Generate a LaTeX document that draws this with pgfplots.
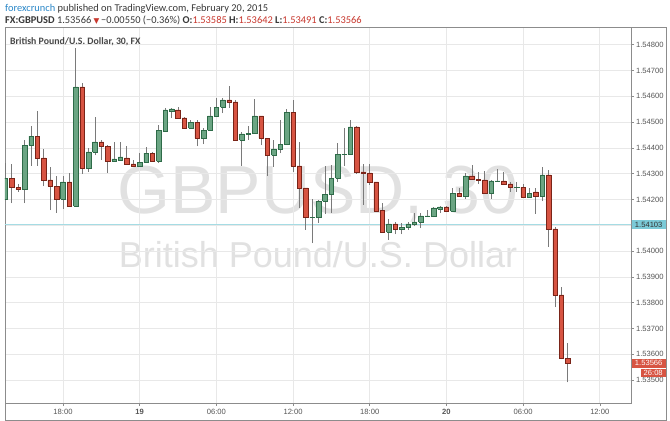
\documentclass[border=0pt]{standalone}
\usepackage{pgfplots}
\pgfplotsset{compat=1.18}
\usepackage{pgfplotstable}
\usepackage{fontspec}
\setmainfont{Liberation Sans}
\newfontfamily\hdr{Carlito}
\newfontfamily\symf{DejaVu Sans}
\definecolor{upfill}{HTML}{6BA583}
\definecolor{upbord}{HTML}{2E6B48}
\definecolor{dnfill}{HTML}{D75442}
\definecolor{dnbord}{HTML}{7A2418}
\definecolor{wickc}{HTML}{7A7A7A}
\definecolor{gridc}{HTML}{E8E8E8}
\definecolor{framec}{HTML}{8C8C8C}
\definecolor{wm}{HTML}{E1E1E1}
\definecolor{cyanl}{HTML}{A5DCE4}
\definecolor{cyanbox}{HTML}{7CCAD7}
\definecolor{redtxt}{HTML}{C8372D}
\definecolor{blue1}{HTML}{2A87C8}
\definecolor{ticktxt}{HTML}{555555}

% k open high low close up
\pgfplotstableread{
k o h l c u
0 1.54202 1.54341 1.54198 1.54283 1
1 1.54283 1.54338 1.54186 1.54248 0
2 1.54248 1.54260 1.54229 1.54241 0
3 1.54241 1.54431 1.54186 1.54411 1
4 1.54411 1.54485 1.54330 1.54446 1
5 1.54446 1.54543 1.54330 1.54361 0
6 1.54361 1.54396 1.54252 1.54276 0
7 1.54276 1.54326 1.54159 1.54252 0
8 1.54252 1.54291 1.54148 1.54202 0
9 1.54202 1.54291 1.54163 1.54268 1
10 1.54268 1.54303 1.54172 1.54175 0
11 1.54175 1.54787 1.54172 1.54636 1
12 1.54636 1.54651 1.54299 1.54322 0
13 1.54322 1.54400 1.54307 1.54384 1
14 1.54384 1.54520 1.54372 1.54423 1
15 1.54423 1.54431 1.54353 1.54407 0
16 1.54407 1.54411 1.54303 1.54349 0
17 1.54349 1.54423 1.54349 1.54357 1
18 1.54353 1.54423 1.54353 1.54365 1
19 1.54361 1.54407 1.54338 1.54338 0
20 1.54338 1.54353 1.54330 1.54330 0
21 1.54330 1.54380 1.54330 1.54345 1
22 1.54345 1.54403 1.54345 1.54380 1
23 1.54380 1.54384 1.54349 1.54349 0
24 1.54349 1.54489 1.54341 1.54469 1
25 1.54465 1.54555 1.54465 1.54547 1
26 1.54543 1.54555 1.54516 1.54551 1
27 1.54547 1.54558 1.54516 1.54516 0
28 1.54516 1.54520 1.54477 1.54477 0
29 1.54477 1.54508 1.54477 1.54500 1
30 1.54500 1.54508 1.54407 1.54438 0
31 1.54438 1.54477 1.54415 1.54469 1
32 1.54469 1.54558 1.54469 1.54524 1
33 1.54524 1.54593 1.54524 1.54558 1
34 1.54558 1.54593 1.54535 1.54586 1
35 1.54586 1.54640 1.54555 1.54578 0
36 1.54578 1.54586 1.54431 1.54431 0
37 1.54431 1.54462 1.54330 1.54454 1
38 1.54451 1.54485 1.54431 1.54455 1
39 1.54458 1.54589 1.54458 1.54524 1
40 1.54524 1.54524 1.54411 1.54438 0
41 1.54438 1.54438 1.54291 1.54372 0
42 1.54372 1.54431 1.54326 1.54396 1
43 1.54396 1.54508 1.54380 1.54415 1
44 1.54415 1.54551 1.54415 1.54539 1
45 1.54539 1.54586 1.54307 1.54330 0
46 1.54330 1.54423 1.54167 1.54245 0
47 1.54245 1.54245 1.54082 1.54132 0
48 1.54130 1.54202 1.54031 1.54132 1
49 1.54132 1.54198 1.54109 1.54194 1
50 1.54194 1.54330 1.54144 1.54221 1
51 1.54221 1.54334 1.54148 1.54283 1
52 1.54283 1.54419 1.54268 1.54376 1
53 1.54374 1.54477 1.54330 1.54376 1
54 1.54376 1.54508 1.54376 1.54481 1
55 1.54481 1.54485 1.54299 1.54307 0
56 1.54307 1.54338 1.54179 1.54303 0
57 1.54303 1.54338 1.54256 1.54268 0
58 1.54268 1.54268 1.54151 1.54155 0
59 1.54159 1.54186 1.54074 1.54074 0
60 1.54074 1.54124 1.54043 1.54105 1
61 1.54105 1.54113 1.54066 1.54086 0
62 1.54086 1.54109 1.54066 1.54093 1
63 1.54093 1.54113 1.54082 1.54105 1
64 1.54105 1.54148 1.54097 1.54113 1
65 1.54113 1.54148 1.54089 1.54136 1
66 1.54134 1.54159 1.54132 1.54136 1
67 1.54136 1.54171 1.54132 1.54167 1
68 1.54163 1.54175 1.54148 1.54171 1
69 1.54171 1.54175 1.54151 1.54155 0
70 1.54155 1.54245 1.54151 1.54225 1
71 1.54225 1.54245 1.54213 1.54213 0
72 1.54213 1.54303 1.54202 1.54291 1
73 1.54291 1.54334 1.54279 1.54279 0
74 1.54279 1.54307 1.54260 1.54276 0
75 1.54276 1.54310 1.54225 1.54225 0
76 1.54225 1.54276 1.54202 1.54272 1
77 1.54270 1.54318 1.54268 1.54272 1
78 1.54272 1.54307 1.54256 1.54260 0
79 1.54260 1.54268 1.54229 1.54248 0
80 1.54246 1.54268 1.54229 1.54248 1
81 1.54248 1.54260 1.54210 1.54210 0
82 1.54210 1.54245 1.54206 1.54225 1
83 1.54229 1.54245 1.54144 1.54213 0
84 1.54213 1.54326 1.54194 1.54295 1
85 1.54295 1.54314 1.54016 1.54086 0
86 1.54086 1.54093 1.53783 1.53830 0
87 1.53830 1.53861 1.53580 1.53585 0
88 1.53585 1.53642 1.53491 1.53566 0
}\candles

\pgfplotsset{
  wick/.style={draw=wickc, line width=0.9bp, mark=none, forget plot},
  upc/.style={draw=upbord, fill=upfill, line width=0.6bp, mark=none, forget plot},
  dnc/.style={draw=dnbord, fill=dnfill, line width=0.6bp, mark=none, forget plot},
}

\begin{document}
\begin{tikzpicture}
\path[use as bounding box, fill=white] (0bp,0bp) rectangle (670bp,-421bp);
% watermark
\node[anchor=base, text=wm, inner sep=0, font=\fontsize{68bp}{70bp}\selectfont] at (318bp,-213bp) {GBPUSD, 30};
\node[anchor=base, text=wm, inner sep=0, font=\fontsize{36bp}{38bp}\selectfont] at (318bp,-267bp) {British Pound/U.S. Dollar};
\begin{axis}[
  at={(5bp,-27bp)}, anchor=north west, scale only axis,
  width=626bp, height=376bp,
  xmin=-0.078, xmax=97.89, ymin=1.534111, ymax=1.548685,
  axis line style={draw=framec, line width=0.6bp},
  xtick={9,21,33,45,57,69,81,93},
  xticklabels={18:00,\textbf{19},06:00,12:00,18:00,\textbf{20},06:00,12:00},
  ytick={1.535,1.536,1.537,1.538,1.539,1.540,1.541,1.542,1.543,1.544,1.545,1.546,1.547,1.548},
  yticklabels={1.53500,1.53600,1.53700,1.53800,1.53900,1.54000,1.54100,1.54200,1.54300,1.54400,1.54500,1.54600,1.54700,1.54800},
  xtick pos=left, ytick pos=right, yticklabel pos=right,
  grid=major, grid style={draw=gridc, line width=0.6bp},
  tick align=outside, major tick length=3bp,
  tick style={draw=framec, line width=0.5bp},
  every tick label/.append style={font=\fontsize{7.6bp}{8.5bp}\selectfont, text=ticktxt},
  yticklabel style={xshift=-1.5bp},
  scaled y ticks=false,
  clip mode=individual,
]
\addplot[cyanl, line width=1bp, forget plot] coordinates {(-1,1.54103) (99,1.54103)};
\pgfplotsinvokeforeach{0,...,88}{%
  \pgfplotstablegetelem{#1}{o}\of\candles \edef\vo{\pgfplotsretval}%
  \pgfplotstablegetelem{#1}{h}\of\candles \edef\vh{\pgfplotsretval}%
  \pgfplotstablegetelem{#1}{l}\of\candles \edef\vl{\pgfplotsretval}%
  \pgfplotstablegetelem{#1}{c}\of\candles \edef\vc{\pgfplotsretval}%
  \pgfplotstablegetelem{#1}{u}\of\candles \edef\vu{\pgfplotsretval}%
  \pgfmathsetmacro\xa{#1-0.35}%
  \pgfmathsetmacro\xb{#1+0.35}%
  \edef\doplot{%
    \noexpand\addplot[wick] coordinates {(#1,\vl) (#1,\vh)};
    \noexpand\addplot[\ifnum\vu=1 upc\else dnc\fi] coordinates {(\xa,\vo) (\xb,\vo) (\xb,\vc) (\xa,\vc) (\xa,\vo)};}%
  \doplot
}
\coordinate (cy) at (axis cs:97.89,1.54103);
\coordinate (lp) at (axis cs:97.89,1.53566);
\end{axis}
% frame
\draw[framec, line width=0.6bp] (5bp,-27bp) -- (666bp,-27bp) -- (666bp,-420.5bp) -- (5bp,-420.5bp) -- (5bp,-403bp);
% price labels
\node[fill=cyanbox, anchor=west, minimum width=34bp, minimum height=9bp, inner sep=0,
  font=\fontsize{7.6bp}{8.5bp}\selectfont, text=black!80] at ([xshift=0.5bp]cy) {1.54103};
\node[fill=dnfill, anchor=west, minimum width=34bp, minimum height=9bp, inner sep=0,
  font=\fontsize{7.6bp}{8.5bp}\selectfont, text=white] at ([xshift=0.5bp]lp) {1.53566};
\node[fill=dnfill, anchor=north west, minimum width=25bp, minimum height=8.5bp, inner sep=0,
  font=\fontsize{7.6bp}{8.5bp}\selectfont, text=white] at ([xshift=9.5bp,yshift=-5.5bp]lp) {26:08};
% chart title
\node[anchor=base west, inner sep=0, text=black!72, font=\hdr\bfseries\fontsize{9.8bp}{11bp}\selectfont] at (10bp,-44.5bp) {British Pound/U.S. Dollar, 30, FX};
% header
\node[anchor=base west, inner sep=0, font=\hdr\fontsize{10.4bp}{11bp}\selectfont] at (5bp,-11bp)
  {\textcolor{blue1}{forexcrunch} \textcolor{black!78}{published on TradingView.com, February 20, 2015}};
\node[anchor=base west, inner sep=0, font=\hdr\fontsize{10.4bp}{11bp}\selectfont, text=black!78] at (5bp,-23.5bp)
  {\textbf{FX:GBPUSD} 1.53566 {\symf\fontsize{7.5bp}{8bp}\selectfont\textcolor{redtxt}{▼}}\,−0.00550 (−0.36\%) \textbf{O:}\textcolor{redtxt}{1.53585} \textbf{H:}\textcolor{redtxt}{1.53642} \textbf{L:}\textcolor{redtxt}{1.53491} \textbf{C:}\textcolor{redtxt}{1.53566}};
\end{tikzpicture}
\end{document}
